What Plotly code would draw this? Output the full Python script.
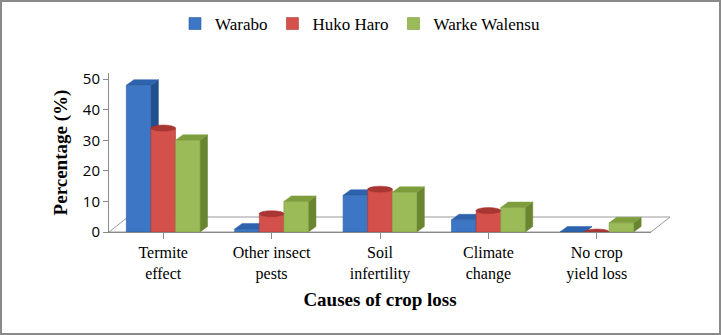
import plotly.graph_objects as go

categories = ["Termite effect", "Other insect pests", "Soil infertility", "Climate change", "No crop yield loss"]
tick_labels = ["Termite<br>effect", "Other insect<br>pests", "Soil<br>infertility", "Climate<br>change", "No crop<br>yield loss"]
series_names = ["Warabo", "Huko Haro", "Warke Walensu"]
warabo = [48, 1, 12, 4, 0]
huko_haro = [34, 6, 14, 7, 0]
warke_walensu = [30, 10, 13, 8, 3]

series_values = [warabo, huko_haro, warke_walensu]
front_colors = ["#3D76C4", "#D4504B", "#9BBB59"]
side_colors = ["#22508E", "#A5322E", "#6A8530"]
top_colors = ["#2D62AC", "#A83632", "#7E9E3E"]
line_colors = ["#2A5A9A", "#B03B37", "#7D9B40"]

W, H = 721, 335
ML, MR, MT, MB = 109, 70, 73, 103
YMAX = 52
BARGAP = 0.32
plot_w = W - ML - MR
plot_h = H - MT - MB

# depth of the pseudo-3D faces (in data units)
DX = 7.5 / (plot_w / 5)
DY = 5.5 / (plot_h / YMAX)

fig = go.Figure()
xi = list(range(len(categories)))
for name, vals, fc, lc in zip(series_names, series_values, front_colors, line_colors):
    fig.add_trace(go.Bar(
        x=xi, y=vals, name=name,
        marker=dict(color=fc, line=dict(color=lc, width=0.6)),
    ))

shapes = []
# floor (decoration in paper coords)
fdx = 19 / plot_w
fdy = 15 / plot_h
shapes.append(dict(
    type="path", xref="paper", yref="paper", layer="below",
    path=f"M 0,0 L 1,0 L {1+fdx},{fdy} L {fdx},{fdy} Z",
    line=dict(color="#9a9a9a", width=1), fillcolor="white",
))

bw = (1 - BARGAP) / 3
above = []
for i in xi:
    for j, vals in enumerate(series_values):
        v = vals[i]
        xc = i + (j - 1) * bw
        left, right = xc - bw / 2, xc + bw / 2
        if j == 1:
            # cylinder top
            above.append(dict(
                type="circle", xref="x", yref="y", layer="above",
                x0=left, x1=right, y0=v - DY * 0.55, y1=v + DY * 0.55,
                fillcolor=top_colors[j], line=dict(color=side_colors[j], width=0.5),
            ))
            continue
        shapes.append(dict(
            type="path", xref="x", yref="y", layer="below",
            path=f"M {right},0 L {right+DX},{DY} L {right+DX},{v+DY} L {right},{v} Z",
            fillcolor=side_colors[j], line=dict(color=side_colors[j], width=0.5),
        ))
        shapes.append(dict(
            type="path", xref="x", yref="y", layer="below",
            path=f"M {left},{v} L {left+DX},{v+DY} L {right+DX},{v+DY} L {right},{v} Z",
            fillcolor=top_colors[j], line=dict(color=top_colors[j], width=0.5),
        ))

# outer frame
shapes.append(dict(
    type="rect", xref="paper", yref="paper", layer="above",
    x0=-(ML - 1) / plot_w, x1=1 + (MR - 1) / plot_w,
    y0=-(MB - 1) / plot_h, y1=1 + (MT - 1) / plot_h,
    line=dict(color="#8a8a8a", width=2), fillcolor="rgba(0,0,0,0)",
))

fig.update_layout(
    width=W, height=H,
    margin=dict(l=ML, r=MR, t=MT, b=MB, pad=0, autoexpand=False),
    paper_bgcolor="white", plot_bgcolor="white",
    barmode="group", bargap=BARGAP, bargroupgap=0,
    shapes=shapes + above,
    showlegend=True,
    legend=dict(
        orientation="h", x=(360 - ML) / plot_w, xanchor="center",
        y=1 + (MT - 24) / plot_h, yanchor="middle",
        font=dict(family="Liberation Serif", size=17, color="black"),
        itemwidth=30, traceorder="normal", bgcolor="rgba(0,0,0,0)",
    ),
    xaxis=dict(
        tickmode="array", tickvals=xi, ticktext=tick_labels,
        range=[-0.5, 4.5], tickson="boundaries", automargin=False,
        ticks="outside", ticklen=6, tickcolor="#8a8a8a",
        showline=True, linecolor="#8a8a8a", linewidth=1,
        showgrid=False, zeroline=False,
        tickfont=dict(family="Liberation Serif", size=16, color="black"),
        title=dict(text="<b>Causes of crop loss</b>", standoff=10,
                   font=dict(family="Liberation Serif", size=19, color="black")),
    ),
    yaxis=dict(
        range=[0, YMAX], tickvals=[0, 10, 20, 30, 40, 50], automargin=False,
        ticks="outside", ticklen=5, tickcolor="#8a8a8a",
        showline=True, linecolor="#8a8a8a", linewidth=1,
        showgrid=False, zeroline=False,
        tickfont=dict(family="Open Sans", size=15, color="black"),
        title=dict(text="<b>Percentage (%)</b>", standoff=10,
                   font=dict(family="Liberation Serif", size=19, color="black")),
    ),
)

fig.write_html(
    "out.html",
    config={"displayModeBar": False},
    post_script="document.body.style.margin='0';document.body.style.overflow='hidden';",
)
